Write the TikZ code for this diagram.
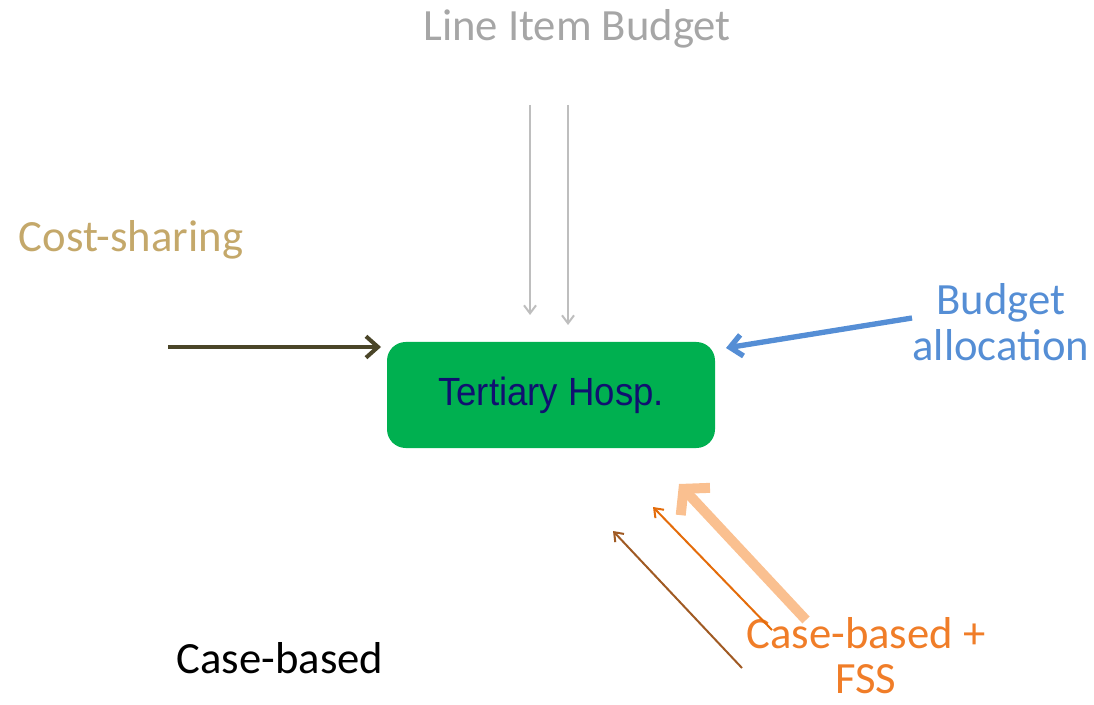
\documentclass[tikz,border=0pt]{standalone}
\usepackage{fontspec}
\setmainfont{Carlito}
\newfontfamily\boxfont[FakeStretch=0.93]{Liberation Sans}
\usetikzlibrary{arrows.meta,positioning}
\definecolor{hospgreen}{RGB}{0,176,80}
\definecolor{hospnavy}{RGB}{16,16,112}
\definecolor{itemgrey}{RGB}{166,166,166}
\definecolor{itemline}{RGB}{190,190,190}
\definecolor{costtan}{RGB}{196,168,106}
\definecolor{costolive}{RGB}{74,69,40}
\definecolor{budgetblue}{RGB}{85,142,213}
\definecolor{fsspeach}{RGB}{250,192,144}
\definecolor{fssorange}{RGB}{228,108,10}
\definecolor{fssbrown}{RGB}{160,90,35}
\definecolor{fsslabel}{RGB}{240,125,40}
\tikzstyle{label} = [font=\fontsize{33.5}{33.75}\selectfont, align=center, inner sep=0pt, anchor=base]
\tikzstyle{hospbox} = [rectangle, fill=hospgreen, rounded corners=14pt, minimum width=246pt,
                       minimum height=79.5pt, text=hospnavy, font=\boxfont\fontsize{29.5}{34}\selectfont]
\tikzstyle{arrow} = [-{Straight Barb[length=9pt,width=16pt]}]

\begin{document}
\begin{tikzpicture}[x=0.75pt, y=-0.75pt]
    \useasboundingbox (0,0) rectangle (1094,705);
    \node [hospbox] (hosp) at (551,395) {Tertiary Hosp.};
    \node [label, text=itemgrey] (lib) at (577,41) {Line Item Budget};
    \node [label, text=costtan] (cost) at (131,252) {Cost-sharing};
    \node [label, text=budgetblue] (budget) at (1001,360) {Budget\\allocation};
    \node [label, text=fsslabel] (cbfss) at (866,693) {Case-based +\\FSS};
    \node [label, text=black] (cb) at (280,673) {Case-based};

    % free ends
    \coordinate (libtailA) at (530,105);
    \coordinate (libheadA) at (530,315);
    \coordinate (libtailB) at (568,105);
    \coordinate (libheadB) at (568,325);
    \coordinate (costtail) at (168,347);
    \coordinate (costhead) at (381,347);
    \coordinate (budgettail) at (912,318);
    \coordinate (budgethead) at (726,348);
    \coordinate (peachtail) at (806,620);
    \coordinate (peachhead) at (679,484);
    \coordinate (orangetail) at (772,630);
    \coordinate (orangehead) at (653,507);
    \coordinate (browntail) at (742,668);
    \coordinate (brownhead) at (613,531);

    \draw [arrow, itemline, line width=1.5pt, arrows={-Straight Barb[length=6pt,width=9pt]}] (libtailA) -- (libheadA);
    \draw [arrow, itemline, line width=1.5pt, arrows={-Straight Barb[length=6pt,width=9pt]}] (libtailB) -- (libheadB);
    \draw [arrow, costolive, line width=3pt] (costtail) -- (costhead);
    \draw [arrow, budgetblue, line width=4pt] (budgettail) -- (budgethead);
    \draw [arrow, fsspeach, line width=7.5pt, arrows={-Straight Barb[length=13pt,width=30pt]}] (peachtail) -- (peachhead);
    \draw [arrow, fssorange, line width=1.5pt, arrows={-Straight Barb[length=6pt,width=9pt]}] (orangetail) -- (orangehead);
    \draw [arrow, fssbrown, line width=1.5pt, arrows={-Straight Barb[length=6pt,width=9pt]}] (browntail) -- (brownhead);
\end{tikzpicture}
\end{document}
